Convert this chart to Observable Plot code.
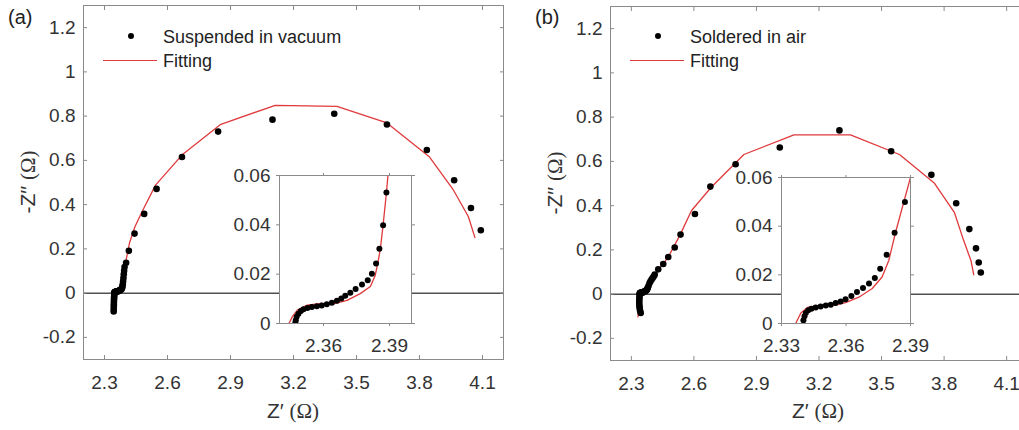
<!DOCTYPE html>
<html><head><meta charset="utf-8">
<script src="https://cdn.jsdelivr.net/npm/d3@7"></script>
<script src="https://cdn.jsdelivr.net/npm/@observablehq/plot@0.6"></script>
<style>
body{margin:0;background:#fff;}
#root{position:relative;width:1019px;height:430px;overflow:hidden;font-family:"Liberation Sans",Arial,sans-serif;color:#333;}
#root > svg, #root > div{position:absolute;}
.serif{font-family:"Liberation Serif","Times New Roman",serif;}
</style></head><body><div id="root"></div>
<script>
// ---------- Panel (a): suspended in vacuum ----------
const aRe = [2.3438, 2.3440, 2.3443, 2.3446, 2.3449, 2.3452, 2.3456, 2.3460, 2.3465, 2.3470,
  2.3472, 2.3474, 2.3478, 2.3486, 2.3497, 2.3509, 2.3527, 2.3547, 2.3570, 2.3592,
  2.3615, 2.3638, 2.3661, 2.3681, 2.3699, 2.3722, 2.3746, 2.3775, 2.3801, 2.3820,
  2.3839, 2.3854, 2.3871, 2.3886,
  2.3902, 2.3918, 2.3935, 2.3955, 2.403, 2.416, 2.443, 2.489, 2.548, 2.669,
  2.841, 3.100, 3.394, 3.645, 3.835, 3.965, 4.045, 4.092];
const aIm = [-0.083, -0.072, -0.061, -0.050, -0.040, -0.031, -0.023, -0.015, -0.008, -0.002,
  0.0003, 0.0013, 0.0027, 0.0040, 0.0051, 0.0058, 0.0063, 0.0067, 0.0070, 0.0073,
  0.0078, 0.0084, 0.0092, 0.0101, 0.0112, 0.0125, 0.0140, 0.0158, 0.0175, 0.0202,
  0.0243, 0.0303, 0.0398, 0.0531,
  0.068, 0.085, 0.101, 0.118, 0.137, 0.191, 0.269, 0.358, 0.471, 0.615,
  0.730, 0.784, 0.811, 0.762, 0.647, 0.510, 0.385, 0.284];
const aFitRe = [2.337, 2.340, 2.342, 2.3443, 2.3460, 2.3481, 2.3524, 2.3585, 2.3646, 2.3707,
  2.3767, 2.3813, 2.3835, 2.3848, 2.3858, 2.3871, 2.3886, 2.3893, 2.3905, 2.395,
  2.403, 2.420, 2.445, 2.478, 2.543, 2.673, 2.854, 3.113, 3.407, 3.645,
  3.848, 3.962, 4.033, 4.064];
const aFitIm = [-0.090, -0.060, -0.030, 0, 0.0030, 0.0054, 0.0074, 0.0081, 0.0080, 0.0094,
  0.0121, 0.0150, 0.0195, 0.0250, 0.0300, 0.0400, 0.0530, 0.0600, 0.080, 0.110,
  0.150, 0.230, 0.300, 0.367, 0.488, 0.628, 0.763, 0.849, 0.844, 0.769,
  0.615, 0.465, 0.345, 0.251];

// ---------- Panel (b): soldered in air ----------
const bRe = [2.345, 2.342, 2.340, 2.339, 2.338, 2.338, 2.338, 2.339, 2.3395,
  2.3402, 2.3407, 2.3413, 2.3424, 2.3439, 2.3459, 2.3482, 2.3506, 2.3529, 2.3552,
  2.3575, 2.3598, 2.3625, 2.3651, 2.3679, 2.3707, 2.3734, 2.3759, 2.3789, 2.3826, 2.3874,
  2.392, 2.397, 2.402, 2.407, 2.412, 2.429, 2.453, 2.477, 2.508, 2.536,
  2.605, 2.679, 2.800, 3.012, 3.298, 3.546, 3.739, 3.858, 3.921, 3.953, 3.966, 3.976];
const bIm = [-0.085, -0.075, -0.065, -0.055, -0.045, -0.035, -0.025, -0.015, -0.006,
  0.0013, 0.0030, 0.0043, 0.0054, 0.0061, 0.0066, 0.0070, 0.0074, 0.0077, 0.0084,
  0.0090, 0.0100, 0.0113, 0.0129, 0.0146, 0.0164, 0.0187, 0.0225, 0.0283, 0.0373, 0.0499,
  0.058, 0.066, 0.073, 0.080, 0.088, 0.112, 0.136, 0.168, 0.211, 0.269,
  0.362, 0.486, 0.587, 0.663, 0.740, 0.646, 0.539, 0.411, 0.294, 0.207, 0.143, 0.098];
const bFitRe = [2.332, 2.334, 2.335, 2.3366, 2.339, 2.3421, 2.3475, 2.3537, 2.3598, 2.366,
  2.3722, 2.3768, 2.3799, 2.383, 2.390, 2.400, 2.430, 2.476, 2.535, 2.588,
  2.683, 2.840, 3.080, 3.351, 3.586, 3.754, 3.849, 3.894, 3.929, 3.942];
const bFitIm = [-0.103, -0.070, -0.035, 0, 0.0043, 0.0066, 0.0074, 0.0074, 0.0086, 0.0108,
  0.0144, 0.0191, 0.0259, 0.0373, 0.060, 0.075, 0.110, 0.166, 0.270, 0.377,
  0.483, 0.631, 0.720, 0.720, 0.631, 0.501, 0.370, 0.242, 0.151, 0.088];

// ---------- ticks & labels ----------
const mainXTicks = [2.3, 2.6, 2.9, 3.2, 3.5, 3.8, 4.1];
const mainYTicks = [-0.2, 0, 0.2, 0.4, 0.6, 0.8, 1, 1.2];
const insetYTicks = [0, 0.02, 0.04, 0.06];
const insetXTicksA = [2.36, 2.39];
const insetXTicksB = [2.33, 2.36, 2.39];
const panelTags = ["(a)", "(b)"];
const seriesNames = ["Suspended in vacuum", "Soldered in air"];
const fitName = "Fitting";

const FONT = '"Liberation Sans", Arial, sans-serif';
const RED = "#e0393c";
const FRAME = "#8a8a8a";
const TXT = "#333";
const fmt = d => String(d);
const root = document.getElementById("root");

function panel(o) {
  const pts = o.re.map((x, i) => ({x, y: o.im[i]}));
  const fit = o.fre.map((x, i) => ({x, y: o.fim[i]}));
  const ts = o.tickSize;
  const svg = Plot.plot({
    width: o.width, height: o.height,
    marginLeft: o.ml, marginRight: o.mr, marginTop: o.mt, marginBottom: o.mb,
    style: {background: "transparent", fontFamily: FONT, fontSize: "19px", color: TXT, overflow: "visible"},
    x: {domain: o.xDomain, label: null},
    y: {domain: o.yDomain, label: null},
    marks: [
      o.inset ? Plot.frame({fill: "white", stroke: "none"}) : null,
      o.inset ? null : Plot.ruleY([0], {stroke: "#505050", strokeWidth: 1.5}),
      Plot.line(fit, {x: "x", y: "y", stroke: RED, strokeWidth: 1.3, clip: true}),
      Plot.dot(pts, {x: "x", y: "y", r: o.r, fill: "#000", stroke: "none", clip: true}),
      Plot.frame({stroke: FRAME}),
      Plot.axisX(o.xTicks, {anchor: "bottom", tickSize: ts, tickPadding: o.xPad, tickFormat: fmt, stroke: FRAME, fill: TXT, label: null}),
      Plot.axisX(o.xTicks, {anchor: "top", tickSize: ts, tickFormat: () => "", stroke: FRAME, label: null}),
      Plot.axisY(o.yTicks, {anchor: "left", tickSize: ts, tickPadding: o.yPad, tickFormat: fmt, stroke: FRAME, fill: TXT, label: null}),
      Plot.axisY(o.yTicks, {anchor: "right", tickSize: ts, tickFormat: () => "", stroke: FRAME, label: null})
    ]
  });
  svg.style.left = o.left + "px";
  svg.style.top = o.top + "px";
  root.appendChild(svg);
}

function addText(html, x, y, css = "", align = "center") {
  const d = document.createElement("div");
  d.innerHTML = html;
  d.style.cssText = `left:${x}px;top:${y}px;white-space:nowrap;line-height:1;transform:translate(${align === "left" ? "0" : "-50%"},-50%);${css}`;
  root.appendChild(d);
}
function addBox(x, y, w, h, css) {
  const d = document.createElement("div");
  d.style.cssText = `left:${x}px;top:${y}px;width:${w}px;height:${h}px;${css}`;
  root.appendChild(d);
}

// main panels
panel({re: aRe, im: aIm, fre: aFitRe, fim: aFitIm, xDomain: [2.2, 4.2], yDomain: [-0.3, 1.3],
  xTicks: mainXTicks, yTicks: mainYTicks, width: 510, height: 430, ml: 83, mr: 7, mt: 5, mb: 71,
  left: 0, top: 0, tickSize: -4, xPad: 20, yPad: 12, r: 3.3});
panel({re: bRe, im: bIm, fre: bFitRe, fim: bFitIm, xDomain: [2.2, 4.2], yDomain: [-0.3, 1.3],
  xTicks: mainXTicks, yTicks: mainYTicks, width: 510, height: 430, ml: 83, mr: 10, mt: 5, mb: 71,
  left: 527, top: 1, tickSize: -4, xPad: 20, yPad: 12, r: 3.3});
// insets
panel({re: aRe, im: aIm, fre: aFitRe, fim: aFitIm, xDomain: [2.34, 2.40], yDomain: [0, 0.06],
  xTicks: insetXTicksA, yTicks: insetYTicks, width: 212, height: 203, ml: 60, mr: 20, mt: 15, mb: 40,
  left: 219, top: 160, tickSize: 3, xPad: 12, yPad: 6, r: 3, inset: true});
panel({re: bRe, im: bIm, fre: bFitRe, fim: bFitIm, xDomain: [2.33, 2.39], yDomain: [0, 0.06],
  xTicks: insetXTicksB, yTicks: insetYTicks, width: 209, height: 201, ml: 60, mr: 20, mt: 15, mb: 40,
  left: 721, top: 162, tickSize: 3, xPad: 12, yPad: 6, r: 3, inset: true});

// panel tags
addText(panelTags[0], 8, 17, "font-size:20px;color:#222;", "left");
addText(panelTags[1], 535, 17, "font-size:20px;color:#222;", "left");

// legends
const legends = [{frameLeft: 83, name: seriesNames[0]}, {frameLeft: 610, name: seriesNames[1]}];
legends.forEach((L, i) => {
  const fx = L.frameLeft;
  addBox(fx + 48 - 3.3, 36 - 3.3, 6.6, 6.6, "background:#000;border-radius:50%;");
  addText(L.name, fx + 80, 37, "font-size:18px;color:#222;", "left");
  addBox(fx + 20, 59.5, 54, 1.3, `background:${RED};`);
  addText(fitName, fx + 80, 61, "font-size:18px;color:#222;", "left");
});

// axis titles
const xTitle = 'Z′ <span class="serif">(Ω)</span>';
const yTitle = '-Z′′ <span class="serif">(Ω)</span>';
addText(xTitle, 293, 411, "font-size:21px;color:#333;");
addText(xTitle, 818, 411, "font-size:21px;color:#333;");
addText(yTitle, 28, 182, "font-size:21px;color:#333;transform:translate(-50%,-50%) rotate(-90deg);");
addText(yTitle, 555, 183, "font-size:21px;color:#333;transform:translate(-50%,-50%) rotate(-90deg);");
</script></body></html>
